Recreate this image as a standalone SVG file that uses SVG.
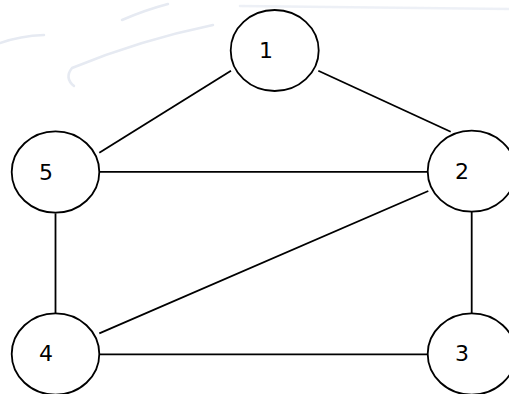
<svg xmlns="http://www.w3.org/2000/svg" width="509" height="394" viewBox="0 0 509 394">
<style>
.node ellipse{fill:#ffffff;stroke:#000000;stroke-width:1.8}
.node text{font-family:"DejaVu Sans","Liberation Sans",sans-serif;font-size:22px;fill:#000000;text-anchor:middle}
#edges line{stroke:#000000;stroke-width:1.8}
.wm{fill:none;stroke:#e6eaf2;stroke-width:2.5;stroke-linecap:round}
</style>
<rect width="509" height="394" fill="#ffffff"/>
<g id="watermark">
<path class="wm" d="M240,6 L509,9" stroke-width="6" opacity="0.7"/>
<path class="wm" d="M0,43 Q20,36 44,35"/>
<path class="wm" d="M74,86 Q64,78 72,68 Q140,40 213,25"/>
<path class="wm" d="M122,20 Q145,10 168,4"/>
</g>
<g id="edges">
<line x1="231" y1="70.7" x2="99.3" y2="152.7"/>
<line x1="318.3" y1="70.7" x2="450.7" y2="131.7"/>
<line x1="99.3" y1="171.8" x2="427.7" y2="171.8"/>
<line x1="428.3" y1="191" x2="99.3" y2="333.3"/>
<line x1="55.5" y1="213.3" x2="55.5" y2="313.3"/>
<line x1="471.7" y1="211" x2="471.7" y2="313.3"/>
<line x1="99.3" y1="354.3" x2="428" y2="354.3"/>
</g>
<g id="node1" class="node"><ellipse cx="274.7" cy="50.5" rx="44" ry="40.5"/><text x="266" y="57.5">1</text></g>
<g id="node2" class="node"><ellipse cx="471.7" cy="171.2" rx="44" ry="40.5"/><text x="462" y="179">2</text></g>
<g id="node3" class="node"><ellipse cx="471.7" cy="354" rx="44" ry="40.7"/><text x="462" y="361">3</text></g>
<g id="node4" class="node"><ellipse cx="55.5" cy="354" rx="43.8" ry="40.7"/><text x="46" y="361">4</text></g>
<g id="node5" class="node"><ellipse cx="55.5" cy="172" rx="43.8" ry="40.7"/><text x="46" y="180">5</text></g>
</svg>
